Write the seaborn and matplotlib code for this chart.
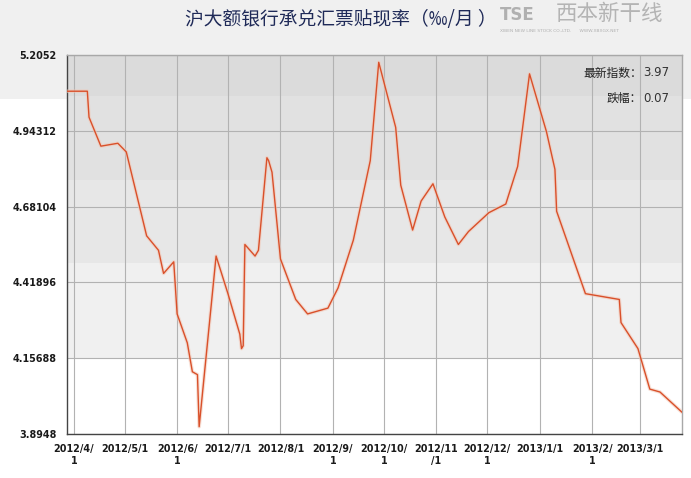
import pandas as pd
import matplotlib
matplotlib.use("Agg")
import matplotlib.pyplot as plt
from matplotlib.patches import Rectangle
import seaborn as sns

# ---------------- Daten ----------------
dates = ["2012-03-28", "2012-04-09", "2012-04-10", "2012-04-17", "2012-04-27",
         "2012-05-02", "2012-05-14", "2012-05-21", "2012-05-24", "2012-05-30",
         "2012-06-01", "2012-06-07", "2012-06-10", "2012-06-13", "2012-06-14",
         "2012-06-24", "2012-07-01", "2012-07-06", "2012-07-08", "2012-07-09",
         "2012-07-10", "2012-07-11", "2012-07-17", "2012-07-19", "2012-07-24",
         "2012-07-25", "2012-07-27", "2012-08-01", "2012-08-10", "2012-08-17",
         "2012-08-29", "2012-09-04", "2012-09-10", "2012-09-13", "2012-09-23",
         "2012-09-28", "2012-10-08", "2012-10-11", "2012-10-18", "2012-10-23",
         "2012-10-30", "2012-11-06", "2012-11-14", "2012-11-20", "2012-12-02",
         "2012-12-12", "2012-12-19", "2012-12-26", "2013-01-05", "2013-01-10",
         "2013-01-11", "2013-01-28", "2013-02-17", "2013-02-18", "2013-02-28",
         "2013-03-07", "2013-03-13", "2013-03-26"]
rates = [5.08, 5.08, 4.99, 4.89, 4.90,
         4.87, 4.58, 4.53, 4.45, 4.49,
         4.31, 4.21, 4.11, 4.10, 3.92,
         4.51, 4.38, 4.28, 4.24, 4.19,
         4.20, 4.55, 4.51, 4.53, 4.85,
         4.84, 4.80, 4.50, 4.36, 4.31,
         4.33, 4.40, 4.51, 4.565, 4.84,
         5.18, 4.955, 4.755, 4.60, 4.70,
         4.76, 4.645, 4.55, 4.595, 4.66,
         4.69, 4.82, 5.14, 4.94, 4.81,
         4.665, 4.38, 4.36, 4.28, 4.19,
         4.05, 4.04, 3.97]

x_ticks = ["2012-04-01", "2012-05-01", "2012-06-01", "2012-07-01", "2012-08-01",
           "2012-09-01", "2012-10-01", "2012-11-01", "2012-12-01", "2013-01-01",
           "2013-02-01", "2013-03-01"]
x_tick_labels = ["2012/4/\n1", "2012/5/1", "2012/6/\n1", "2012/7/1", "2012/8/1",
                 "2012/9/\n1", "2012/10/\n1", "2012/11\n/1", "2012/12/\n1", "2013/1/1",
                 "2013/2/\n1", "2013/3/1"]
y_tick_labels = ["3.8948", "4.15688", "4.41896", "4.68104", "4.94312", "5.2052"]

title = "沪大额银行承兑汇票贴现率（‰/月 ）"
latest_label, latest_value = "最新指数：", "3.97"
change_label, change_value = "跌幅：", "0.07"

df = pd.DataFrame({"date": pd.to_datetime(dates), "rate": rates})

# ---------------- Plot ----------------
sns.set_style("white")
plt.rcParams["font.family"] = ["Noto Sans CJK SC", "DejaVu Sans"]

fig = plt.figure(figsize=(6.91, 4.78), dpi=100)
fig.patch.set_facecolor("white")
# hellgrauer Kopfbereich
fig.patches.append(Rectangle((0, 1 - 99 / 478), 1, 99 / 478, transform=fig.transFigure,
                             facecolor="#f0f0f0", edgecolor="none", zorder=-5))
ax = fig.add_axes([67 / 691, 1 - 434 / 478, 615 / 691, 379 / 478])
ax.set_facecolor("none")

lo, hi = min(rates), max(rates)
pad = (hi - lo) * 0.02
ymin, ymax = lo - pad, hi + pad
y_ticks = [ymin + i * (ymax - ymin) / 5 for i in range(6)]

# graue Streifen im Hintergrund
bands = [(5.0634, ymax, "#dbdbdb"), (4.773, 5.0634, "#e1e1e1"),
         (4.486, 4.773, "#e7e7e7"), (y_ticks[1], 4.486, "#f0f0f0"),
         (ymin, y_ticks[1], "#ffffff")]
for b0, b1, c in bands:
    ax.axhspan(b0, b1, color=c, zorder=0, lw=0)

# Linie mit leichtem Schein
ax.plot(df["date"], df["rate"], color="#f2c6b4", lw=2.6, alpha=0.55, zorder=3,
        solid_joinstyle="round")
sns.lineplot(data=df, x="date", y="rate", color="#d9502a", lw=1, ax=ax, zorder=4)

ax.set_xlim(df["date"].min(), df["date"].max())
ax.set_ylim(ymin, ymax)
ax.set_yticks(y_ticks)
ax.set_yticklabels(y_tick_labels)
ax.set_xticks(pd.to_datetime(x_ticks))
ax.set_xticklabels(x_tick_labels, linespacing=1.25)
ax.set_xlabel("")
ax.set_ylabel("")

ax.grid(True, color="#b2b2b2", lw=0.8, zorder=1)
ax.set_axisbelow(True)
for lbl in ax.get_xticklabels() + ax.get_yticklabels():
    lbl.set_fontfamily("DejaVu Sans")
    lbl.set_fontweight("bold")
    lbl.set_fontsize(6.9)
    lbl.set_color("#1a1a1a")
ax.tick_params(axis="both", length=6, width=1, color="#333333", direction="out", pad=1.5)

for side in ["left", "bottom"]:
    ax.spines[side].set_color("#444444")
    ax.spines[side].set_linewidth(1)
for side in ["top", "right"]:
    ax.spines[side].set_color("#a8a8a8")
    ax.spines[side].set_linewidth(1)

# Kennzahlen oben rechts
fig.text(642 / 691, 1 - 73 / 478, latest_label, ha="right", va="center", fontsize=8.5, color="#222222")
fig.text(643 / 691, 1 - 73 / 478, latest_value, ha="left", va="center", fontsize=8.5, color="#333333",
         family="DejaVu Sans")
fig.text(642 / 691, 1 - 98 / 478, change_label, ha="right", va="center", fontsize=8.5, color="#222222")
fig.text(643 / 691, 1 - 98 / 478, change_value, ha="left", va="center", fontsize=8.5, color="#333333",
         family="DejaVu Sans")

# Titel und Logo
fig.text(341 / 691, 1 - 20 / 478, title, ha="center", va="center", fontsize=13.5, color="#1f2a58")
fig.text(500 / 691, 1 - 15 / 478, "TSE", ha="left", va="center", fontsize=12, color="#b0b0b0",
         fontweight="bold", family="DejaVu Sans")
fig.text(556 / 691, 1 - 14 / 478, "西本新干线", ha="left", va="center", fontsize=15.5, color="#b4b4b4",
         style="italic")
fig.text(500 / 691, 1 - 31 / 478, "XIBEN NEW LINE STOCK CO.,LTD.      WWW.XBXGX.NET", ha="left",
         va="center", fontsize=3.2, color="#b0b0b0", family="DejaVu Sans")

fig.savefig("out.png", dpi=100)
